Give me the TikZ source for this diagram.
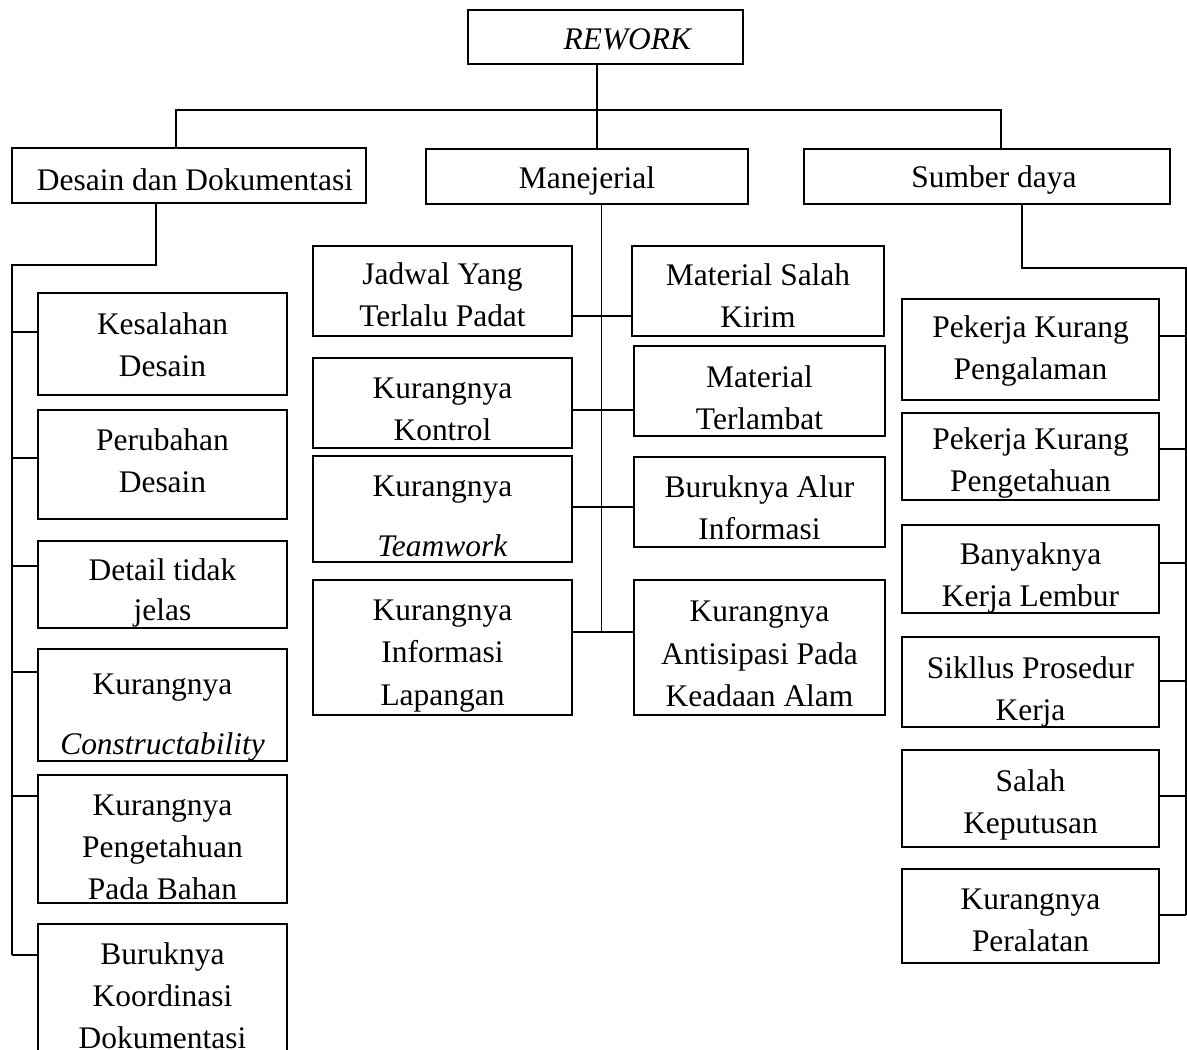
\documentclass[tikz,border=0pt]{standalone}
\usepackage{fontspec}
\setmainfont{Liberation Serif}
\newlength\pxu \setlength\pxu{0.02cm}
\tikzset{
  boxst/.style={draw, line width=1pt, inner sep=0pt, align=center,
    font=\fontsize{17.9pt}{24pt}\selectfont},
  conn/.style={line width=1pt}
}
% box from (x1,y1) to (x2,y2), pixel units, y downward
\newcommand\bx[6]{\node[boxst, minimum width={(#4-#2)*\pxu}, minimum height={(#5-#3)*\pxu}] (#1) at ({(#2+#4)/2},{(#3+#5)/2}) {#6};}
% push the text of a box down by #1 pixels
\newcommand\sh[1]{\rule{0pt}{\dimexpr21.5\pxu+#1\pxu+#1\pxu\relax}}
\begin{document}
\begin{tikzpicture}[x=0.02cm, y=-0.02cm]
\clip (0,0) rectangle (1187,1050);
\fill[white] (0,0) rectangle (1187,1050);
% top levels
\bx{rw}{468}{10}{743}{64}{\sh{2}\hspace*{45\pxu}\textit{REWORK}}
\bx{des}{12}{148}{366}{203}{\sh{4}\hspace*{12\pxu}Desain dan Dokumentasi}
\bx{man}{426}{149}{748}{204}{\sh{5}Manejerial}
\bx{sum}{804}{149}{1170}{204}{\sh{4}\hspace*{14\pxu}Sumber daya}
% left column
\bx{k1}{38}{293}{287}{395}{\sh{1}Kesalahan\\Desain}
\bx{k2}{38}{410}{287}{519}{Perubahan\\Desain\rule[-8\pxu]{0pt}{0pt}}
\bx{k3}{38}{541}{287}{628}{\sh{9}Detail tidak\\[-2\pxu]jelas}
\bx{k4}{38}{652}{287}{758}{\sh{12}Kurangnya\\[18\pxu]\textit{Constructability}}
\bx{k5}{38}{775}{287}{903}{\sh{8}Kurangnya\\Pengetahuan\\Pada Bahan}
\bx{k6}{38}{924}{287}{1068}{Buruknya\\Koordinasi\\Dokumentasi}
% middle column
\bx{j1}{313}{246}{572}{336}{\sh{4}Jadwal Yang\\Terlalu Padat}
\bx{j2}{313}{358}{572}{448}{\sh{6}Kurangnya\\Kontrol}
\bx{j3}{313}{456}{572}{562}{\sh{7}Kurangnya\\[18\pxu]\textit{Teamwork}}
\bx{j4}{313}{580}{572}{715}{\sh{8}Kurangnya\\Informasi\\Lapangan}
\bx{r1}{632}{246}{884}{336}{\sh{5}Material Salah\\Kirim}
\bx{r2}{634}{346}{885}{436}{\sh{7}Material\\Terlambat}
\bx{r3}{634}{457}{885}{547}{\sh{6}Buruknya Alur\\Informasi}
\bx{r4}{634}{580}{885}{715}{\sh{6}Kurangnya\\Antisipasi Pada\\Keadaan Alam}
% right column
\bx{p1}{902}{299}{1159}{400}{\sh{2}Pekerja Kurang\\Pengalaman}
\bx{p2}{902}{413}{1159}{500}{\sh{7}Pekerja Kurang\\Pengetahuan}
\bx{p3}{902}{525}{1159}{613}{\sh{9}Banyaknya\\Kerja Lembur}
\bx{p4}{902}{638}{1159}{726}{\sh{10}Sikllus Prosedur\\Kerja}
\bx{p5}{902}{750}{1159}{847}{\sh{7}Salah\\Keputusan}
\bx{p6}{902}{869}{1159}{963}{\sh{4}Kurangnya\\Peralatan}
% top connectors
\coordinate (j0) at (597,110);
\coordinate (hL) at (176,110);
\coordinate (hR) at (1001,110);
\draw[conn] (rw.south -| j0) -- (man.north -| j0);
\draw[conn] (des.north -| hL) -- (hL) -- (hR) -- (sum.north -| hR);
% left spine
\coordinate (dd) at (156,265);
\coordinate (dl) at (12,265);
\coordinate (b1) at (12,332);
\coordinate (b2) at (12,458);
\coordinate (b3) at (12,566);
\coordinate (b4) at (12,672);
\coordinate (b5) at (12,796);
\coordinate (b6) at (12,955);
\draw[conn] (des.south -| dd) -- (dd) -- (dl) -- (b6);
\foreach \b/\k in {b1/k1,b2/k2,b3/k3,b4/k4,b5/k5,b6/k6}
  \draw[conn] (\b) -- (\b -| \k.west);
% middle spine
\coordinate (m1) at (601.5,316);
\coordinate (m2) at (601.5,410);
\coordinate (m3) at (601.5,507);
\coordinate (m4) at (601.5,632);
\draw[conn] (man.south -| m1) -- (m4);
\foreach \m/\l/\r in {m1/j1/r1,m2/j2/r2,m3/j3/r3,m4/j4/r4}
  \draw[conn] (\m -| \l.east) -- (\m -| \r.west);
% right spine
\coordinate (sd) at (1022,268);
\coordinate (sr) at (1186,268);
\coordinate (s1) at (1186,336);
\coordinate (s2) at (1186,449);
\coordinate (s3) at (1186,563);
\coordinate (s4) at (1186,681);
\coordinate (s5) at (1186,796);
\coordinate (s6) at (1186,915);
\draw[conn] (sum.south -| sd) -- (sd) -- (sr) -- (s6);
\foreach \s/\p in {s1/p1,s2/p2,s3/p3,s4/p4,s5/p5,s6/p6}
  \draw[conn] (\s) -- (\s -| \p.east);
\end{tikzpicture}
\end{document}
